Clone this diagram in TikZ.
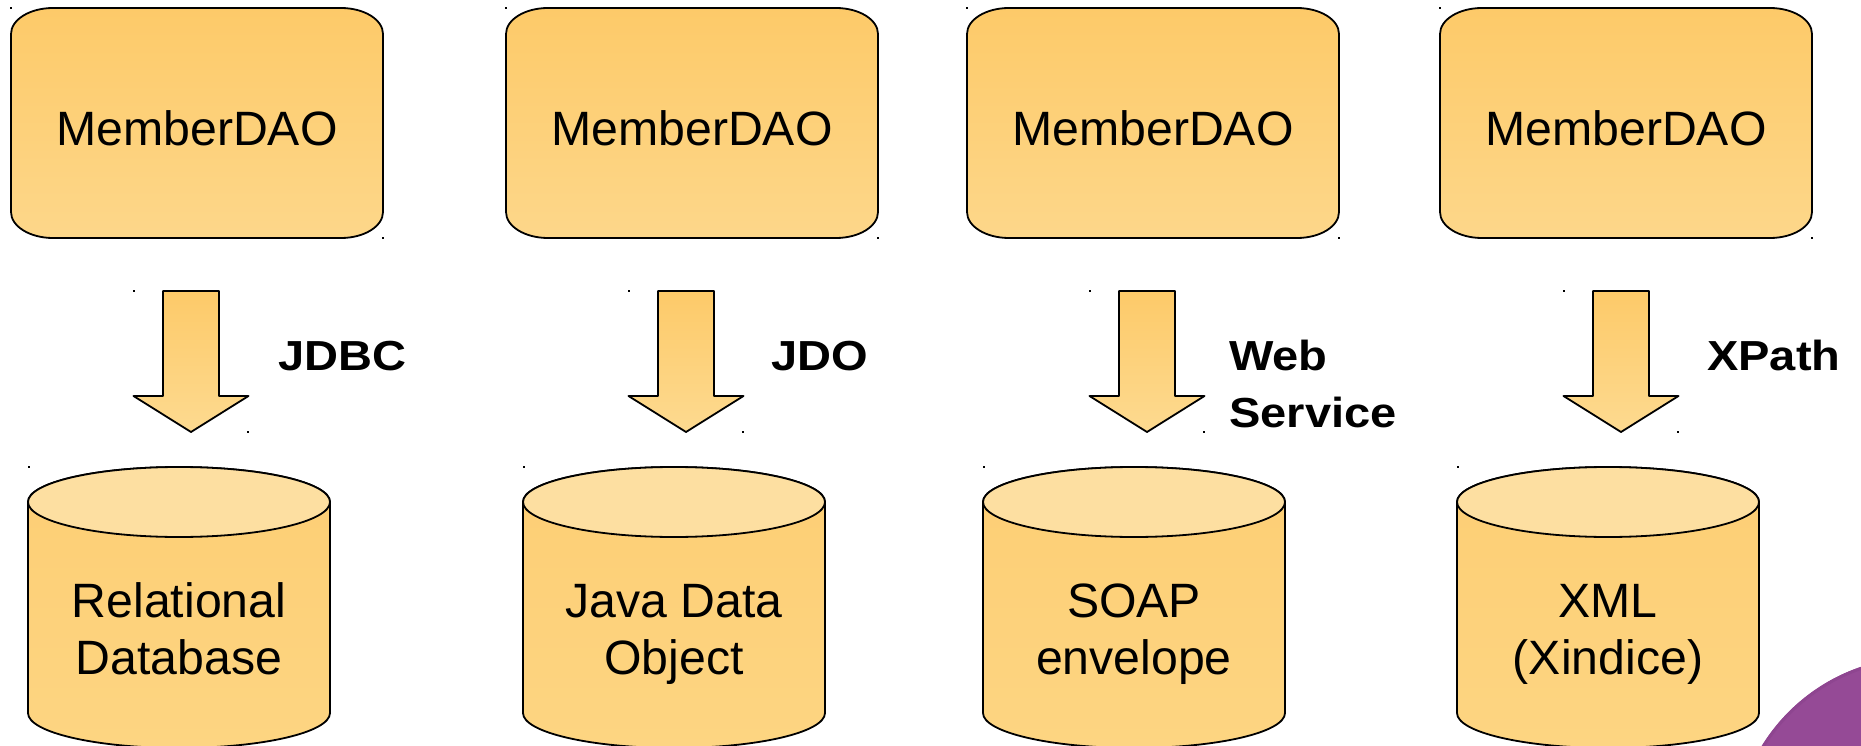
\documentclass[tikz,border=0pt]{standalone}
\usepackage{fontspec}
\setmainfont{Liberation Sans}
\newfontfamily\lblfont{Liberation Sans}[FakeStretch=1.12]
\definecolor{boxtop}{HTML}{FDCA69}
\definecolor{boxbot}{HTML}{FDD78A}
\definecolor{cyltop}{HTML}{FDDFA1}
\definecolor{cylbodytop}{HTML}{FDCE74}
\definecolor{cylbodybot}{HTML}{FDD582}
\definecolor{arrtop}{HTML}{FDCA69}
\definecolor{arrbot}{HTML}{FDDA90}
\definecolor{purp}{HTML}{954A96}
\definecolor{purpedge}{HTML}{8E4590}
\begin{document}
\begin{tikzpicture}[x=1pt,y=-1pt,
  outl/.style={draw=black,line width=1.8pt,line join=round},
  boxshape/.style={outl,top color=boxtop,bottom color=boxbot},
  cylbody/.style={outl,top color=cylbodytop,bottom color=cylbodybot},
  cylend/.style={outl,fill=cyltop},
  arrshape/.style={outl,top color=arrtop,bottom color=arrbot},
  boxtext/.style={inner sep=0pt,anchor=base,font=\fontsize{48.2}{57}\selectfont},
  cyltext/.style={inner sep=0pt,anchor=base,font=\fontsize{48.2}{57}\selectfont},
  lbl/.style={inner sep=0pt,anchor=base west,font=\lblfont\bfseries\fontsize{42}{57}\selectfont},
  dot/.style={fill=black}]
\useasboundingbox (0,0) rectangle (1861,746);
\fill[white] (0,0) rectangle (1861,746);

% purple corner decoration
\begin{scope}
  \clip (0,0) rectangle (1861,746);
  \fill[purp] (1921,844) circle[radius=187pt];
  \draw[purpedge,line width=3pt] (1921,844) circle[radius=185.5pt];
\end{scope}

% MemberDAO boxes
\foreach \l/\n in {11/1,506/2,967/3,1440/4}{
  \pgfmathsetmacro{\r}{\l+372}
  \pgfmathsetmacro{\c}{\l+186}
  \path[boxshape] (\l,34) arc[start angle=180,end angle=90,x radius=42pt,y radius=26pt]
     -- (\r-42,8) arc[start angle=90,end angle=0,x radius=42pt,y radius=26pt]
     -- (\r,212) arc[start angle=0,end angle=-90,x radius=42pt,y radius=26pt]
     -- (\l+42,238) arc[start angle=-90,end angle=-180,x radius=42pt,y radius=26pt]
     -- cycle;
  \node[boxtext] (dao\n) at (\c,146) {MemberDAO};
  \fill[dot] (\l-1,7) rectangle (\l+1,9);
  \fill[dot] (\r-1,237) rectangle (\r+1,239);
}

% block arrows
\foreach \t/\n in {191/1,686/2,1147/3,1621/4}{
  \coordinate (tip\n) at (\t,432);
  \path[arrshape] (\t-28,291) -- (\t+28,291) -- (\t+28,396) -- (\t+57.5,396)
     -- (tip\n) -- (\t-57.5,396) -- (\t-28,396) -- cycle;
  \fill[dot] (\t-58,290) rectangle (\t-56,292);
  \fill[dot] (\t+56,431) rectangle (\t+58,433);
}

% arrow labels
\node[lbl] (jdbc) at (278,370) {JDBC};
\node[lbl] (jdo) at (771,370) {JDO};
\node[lbl] (ws) at (1229,370) {\begin{tabular}[t]{@{}l@{}}Web\\Service\end{tabular}};
\node[lbl] (xpath) at (1707,370) {XPath};

% cylinders
\foreach \cx/\n/\txt in {179/1/{Relational\\Database},674/2/{Java Data\\Object},1134/3/{SOAP\\envelope},1608/4/{XML\\(Xindice)}}{
  \path[cylbody] (\cx-151,502) -- (\cx-151,713)
     arc[start angle=180,end angle=360,x radius=151pt,y radius=35pt]
     -- (\cx+151,502)
     arc[start angle=0,end angle=180,x radius=151pt,y radius=35pt] -- cycle;
  \path[cylend] (\cx,502) ellipse[x radius=151pt,y radius=35pt];
  \node[cyltext] (db\n) at (\cx,617) {\begin{tabular}[t]{@{}c@{}}\txt\end{tabular}};
  \fill[dot] (\cx-151,466) rectangle (\cx-149,468);
}
\end{tikzpicture}
\end{document}
